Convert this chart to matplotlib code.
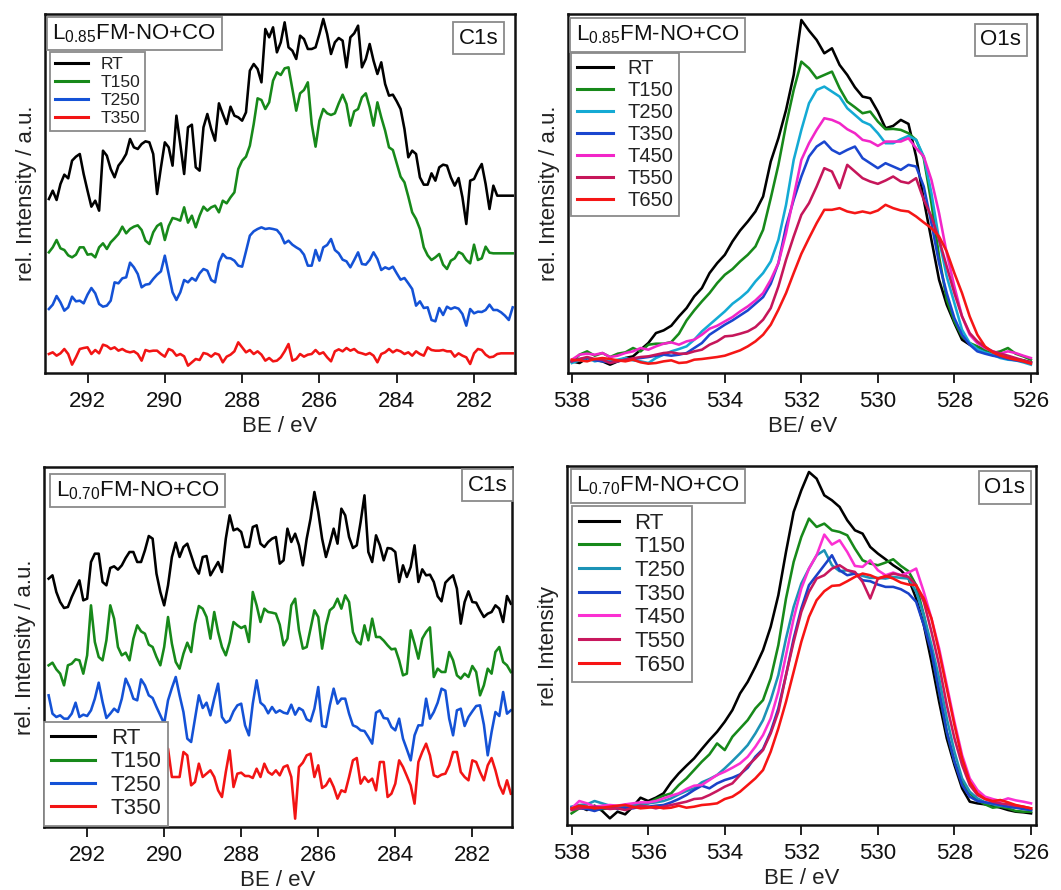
import numpy as np
import matplotlib
matplotlib.use("Agg")
import matplotlib.pyplot as plt

plt.rcParams['font.family'] = ['Liberation Sans', 'DejaVu Sans']
plt.rcParams['mathtext.fontset'] = 'custom'
plt.rcParams['mathtext.rm'] = 'Liberation Sans'

# ---------------------------------------------------------------- energy grids (eV)
c1s_be = np.linspace(293.0, 281.0, 121)
o1s_be = np.linspace(538.0, 526.0, 61)

labels_c1s = ['RT', 'T150', 'T250', 'T350']
labels_o1s = ['RT', 'T150', 'T250', 'T350', 'T450', 'T550', 'T650']

# ---------------------------------------------------------------- L0.85 C1s (a.u.)
c1s_085_rt = [545, 570, 542, 590, 618, 607, 660, 672, 680, 620, 570, 522, 540, 510, 690, 675, 635, 610, 645, 660,
              680, 725, 700, 695, 710, 718, 715, 680, 560, 640, 715, 700, 645, 795, 710, 620, 760, 768, 640, 630,
              760, 800, 755, 720, 832, 800, 770, 822, 795, 790, 780, 805, 930, 950, 935, 895, 1055, 1030, 1060, 985,
              1015, 1075, 1000, 990, 965, 1035, 1025, 995, 995, 1000, 1040, 1085, 1040, 980, 1015, 1028, 1020, 940, 1030, 1042,
              1065, 940, 965, 1010, 960, 920, 955, 890, 855, 858, 838, 815, 755, 670, 690, 680, 610, 588, 588, 622,
              600, 640, 648, 645, 610, 585, 608, 550, 470, 600, 605, 630, 650, 590, 515, 585, 555, 555, 555, 555, 555]
c1s_085_t150 = [385, 400, 422, 397, 392, 376, 370, 378, 400, 400, 378, 380, 370, 400, 412, 395, 415, 427, 440, 462,
                442, 455, 462, 466, 452, 420, 410, 445, 464, 472, 422, 464, 488, 485, 480, 520, 474, 495, 460, 495,
                522, 510, 520, 525, 505, 540, 532, 550, 565, 635, 660, 672, 705, 770, 847, 842, 815, 835, 900, 925,
                917, 937, 940, 875, 810, 862, 872, 895, 770, 702, 780, 815, 802, 797, 802, 832, 858, 830, 765, 808,
                815, 850, 862, 820, 765, 835, 790, 750, 700, 692, 652, 612, 595, 552, 505, 485, 455, 400, 376, 362,
                370, 380, 348, 335, 360, 367, 386, 380, 362, 352, 408, 362, 367, 402, 384, 382, 382, 382, 382, 382, 382]
c1s_085_t250 = [215, 228, 254, 235, 210, 220, 252, 238, 240, 232, 258, 278, 262, 230, 222, 225, 240, 295, 292, 307,
                310, 354, 340, 320, 280, 288, 290, 305, 318, 328, 375, 320, 265, 242, 265, 302, 295, 308, 300, 322,
                335, 330, 302, 295, 355, 380, 368, 367, 360, 345, 342, 388, 435, 448, 455, 460, 455, 457, 455, 452,
                438, 412, 420, 408, 400, 393, 378, 345, 345, 392, 360, 400, 407, 425, 392, 382, 363, 358, 340, 362,
                385, 350, 348, 362, 385, 365, 332, 340, 335, 342, 322, 303, 308, 292, 275, 225, 238, 218, 220, 182,
                178, 218, 197, 222, 215, 220, 216, 200, 165, 215, 202, 207, 206, 212, 228, 212, 212, 205, 195, 182, 220]
c1s_085_t350 = [80, 85, 75, 82, 95, 80, 48, 70, 95, 98, 100, 80, 92, 82, 108, 104, 95, 100, 90, 95,
                88, 85, 88, 80, 60, 92, 88, 90, 90, 80, 72, 95, 90, 75, 80, 73, 45, 55, 65, 62,
                83, 80, 72, 82, 78, 55, 72, 78, 88, 115, 100, 85, 92, 80, 88, 78, 60, 68, 58, 60,
                70, 88, 110, 60, 65, 80, 72, 78, 80, 92, 80, 85, 70, 58, 88, 94, 88, 98, 90, 95,
                85, 82, 78, 83, 75, 55, 80, 85, 95, 85, 92, 88, 80, 85, 75, 88, 80, 75, 100, 92,
                90, 90, 92, 88, 88, 72, 82, 75, 70, 50, 82, 95, 92, 78, 70, 72, 80, 82, 82, 82, 82]

# ---------------------------------------------------------------- L0.70 C1s (a.u.)
c1s_070_rt = [760, 770, 720, 690, 672, 675, 705, 730, 755, 695, 700, 810, 835, 835, 750, 740, 792, 797, 787, 800,
              822, 840, 840, 810, 810, 845, 888, 880, 775, 720, 680, 740, 825, 868, 825, 855, 865, 830, 795, 775,
              825, 828, 770, 790, 810, 780, 880, 950, 905, 910, 900, 855, 855, 915, 920, 865, 855, 870, 880, 885,
              805, 815, 910, 870, 895, 860, 800, 880, 940, 1020, 960, 880, 825, 865, 910, 865, 970, 950, 885, 852,
              860, 930, 1010, 840, 810, 890, 860, 815, 852, 850, 840, 750, 800, 765, 795, 860, 750, 788, 770, 772,
              750, 707, 692, 748, 760, 770, 730, 625, 690, 722, 690, 688, 665, 645, 655, 660, 680, 670, 630, 708, 685]
c1s_070_t150 = [500, 508, 488, 475, 440, 500, 505, 518, 515, 475, 530, 680, 570, 525, 515, 575, 680, 640, 555, 530,
                538, 515, 580, 620, 602, 595, 562, 555, 525, 500, 555, 645, 565, 510, 490, 535, 568, 540, 625, 678,
                670, 645, 580, 660, 600, 555, 530, 570, 630, 620, 612, 618, 570, 720, 680, 630, 670, 660, 658, 655,
                622, 560, 580, 680, 700, 605, 550, 555, 610, 665, 645, 550, 620, 665, 675, 700, 670, 710, 690, 600,
                572, 563, 620, 575, 640, 585, 585, 574, 560, 548, 550, 515, 470, 475, 605, 565, 520, 580, 600, 614,
                465, 490, 480, 480, 540, 515, 470, 460, 475, 465, 498, 480, 410, 440, 490, 475, 540, 555, 510, 500, 480]
c1s_070_t250 = [410, 355, 345, 350, 340, 340, 355, 388, 345, 352, 348, 365, 400, 448, 390, 342, 355, 370, 360, 400,
                460, 435, 400, 395, 458, 440, 410, 402, 375, 350, 325, 395, 432, 465, 410, 360, 280, 270, 340, 410,
                372, 388, 350, 400, 445, 345, 328, 335, 362, 380, 385, 320, 290, 385, 455, 388, 378, 356, 375, 358,
                365, 358, 355, 382, 352, 372, 365, 338, 332, 370, 435, 318, 315, 380, 430, 385, 400, 400, 355, 320,
                315, 305, 303, 285, 265, 358, 365, 342, 340, 315, 305, 340, 280, 248, 215, 290, 320, 320, 400, 340,
                360, 388, 430, 424, 340, 290, 365, 370, 318, 345, 362, 378, 380, 322, 230, 300, 360, 348, 420, 355, 365]
# T350 record starts at 290.3 eV
c1s_070_t350 = [140, 100, 125, 220, 250, 165, 165, 165, 240, 230, 140, 150, 205,
                165, 175, 185, 165, 125, 105, 180, 245, 135, 175, 178, 168, 168, 162, 190, 165, 205, 180, 172, 185,
                170, 195, 200, 165, 40, 195, 208, 230, 235, 165, 200, 132, 140, 160, 135, 100, 125, 120, 165, 215,
                222, 145, 165, 150, 160, 125, 210, 210, 105, 115, 145, 215, 195, 168, 140, 85, 210, 240, 265, 230,
                170, 165, 172, 175, 200, 240, 240, 180, 165, 155, 215, 210, 180, 155, 200, 222, 185, 140, 115, 155, 115]

# ---------------------------------------------------------------- L0.85 O1s (a.u.)
o1s_085_rt = [57, 52, 67, 62, 57, 47, 57, 67, 72, 92, 112, 142, 150, 164, 192, 217, 252, 277, 322, 352,
              377, 417, 450, 477, 507, 552, 657, 727, 812, 917, 1082, 1050, 1022, 982, 997, 947, 917, 880, 852, 847,
              807, 757, 764, 782, 770, 672, 542, 422, 302, 227, 172, 122, 107, 97, 87, 77, 72, 67, 64, 60, 54]
o1s_085_t150 = [54, 77, 87, 74, 82, 70, 80, 84, 97, 87, 107, 110, 110, 115, 140, 180, 210, 237, 262, 292,
                317, 334, 357, 377, 402, 452, 547, 647, 767, 872, 957, 937, 907, 917, 927, 877, 837, 820, 802, 807,
                777, 754, 755, 752, 742, 722, 667, 532, 372, 242, 177, 132, 112, 102, 92, 82, 87, 97, 80, 72, 62]
o1s_085_t250 = [52, 60, 67, 57, 62, 57, 62, 67, 60, 57, 52, 67, 77, 87, 94, 102, 122, 147, 167, 187,
                207, 230, 247, 267, 297, 322, 357, 422, 527, 662, 752, 832, 872, 882, 867, 852, 817, 797, 777, 767,
                742, 712, 712, 724, 734, 722, 672, 562, 422, 312, 232, 152, 112, 94, 84, 77, 67, 62, 60, 54, 47]
o1s_085_t350 = [57, 64, 67, 60, 57, 54, 57, 62, 64, 67, 70, 74, 77, 74, 77, 82, 97, 112, 137, 152,
                167, 180, 195, 210, 230, 250, 290, 352, 462, 542, 612, 672, 702, 717, 692, 680, 692, 702, 667, 652,
                637, 652, 642, 632, 647, 642, 582, 472, 352, 262, 187, 137, 107, 87, 80, 74, 70, 64, 60, 57, 52]
o1s_085_t450 = [62, 77, 80, 77, 82, 70, 74, 82, 87, 97, 92, 102, 110, 114, 107, 117, 122, 137, 155, 164,
                177, 190, 207, 222, 240, 262, 302, 352, 442, 552, 662, 712, 752, 787, 782, 772, 754, 742, 722, 717,
                704, 717, 717, 717, 727, 697, 672, 602, 502, 382, 282, 192, 137, 112, 97, 87, 80, 87, 82, 74, 67]
o1s_085_t550 = [57, 64, 70, 64, 62, 52, 57, 62, 66, 70, 72, 77, 82, 84, 80, 80, 87, 92, 107, 117,
                132, 134, 140, 147, 160, 182, 217, 282, 362, 432, 497, 532, 582, 637, 627, 577, 647, 627, 607, 597,
                590, 600, 612, 597, 592, 607, 542, 492, 422, 342, 262, 192, 142, 117, 100, 87, 80, 74, 67, 60, 54]
o1s_085_t650 = [62, 60, 57, 64, 67, 64, 60, 57, 62, 54, 50, 52, 57, 60, 52, 54, 62, 64, 67, 70,
                74, 82, 90, 102, 117, 137, 167, 212, 262, 322, 380, 427, 472, 512, 512, 517, 507, 502, 507, 502,
                510, 527, 517, 510, 507, 492, 474, 457, 432, 387, 322, 262, 192, 137, 102, 84, 74, 67, 62, 57, 50]

# ---------------------------------------------------------------- L0.70 O1s (a.u.)
o1s_070_rt = [72, 77, 67, 80, 64, 42, 62, 54, 77, 104, 94, 104, 117, 150, 177, 200, 222, 250, 277, 302,
              332, 367, 417, 452, 497, 547, 617, 712, 842, 962, 1027, 1082, 1062, 1012, 997, 977, 937, 907, 897, 857,
              837, 820, 802, 787, 762, 702, 622, 512, 392, 282, 202, 132, 92, 87, 84, 80, 74, 67, 62, 60, 57]
o1s_070_t150 = [57, 72, 77, 67, 70, 72, 74, 72, 77, 84, 87, 100, 110, 117, 142, 162, 187, 212, 234, 267,
                247, 287, 312, 337, 372, 397, 462, 562, 702, 812, 887, 942, 917, 927, 907, 902, 892, 852, 817, 807,
                802, 810, 820, 800, 784, 742, 652, 542, 422, 302, 212, 152, 117, 97, 84, 74, 77, 72, 64, 62, 62]
o1s_070_t250 = [77, 82, 84, 94, 87, 80, 77, 80, 82, 84, 87, 90, 94, 102, 114, 124, 132, 150, 160, 172,
                192, 214, 237, 262, 297, 337, 397, 472, 582, 677, 747, 792, 832, 847, 802, 784, 787, 777, 770, 764,
                764, 762, 767, 764, 762, 722, 652, 562, 462, 342, 242, 162, 122, 102, 90, 84, 80, 77, 74, 72, 67]
o1s_070_t350 = [74, 72, 70, 64, 72, 77, 70, 74, 72, 77, 77, 80, 82, 90, 100, 112, 127, 140, 132, 147,
                157, 164, 174, 194, 227, 250, 302, 372, 472, 582, 672, 742, 772, 802, 832, 787, 772, 777, 757, 754,
                744, 737, 737, 730, 717, 692, 622, 542, 422, 302, 212, 142, 107, 94, 90, 87, 82, 77, 74, 70, 67]
o1s_070_t450 = [72, 94, 87, 77, 80, 82, 80, 84, 87, 90, 90, 94, 102, 110, 117, 130, 140, 142, 157, 172,
                182, 194, 207, 227, 257, 292, 342, 422, 532, 642, 732, 792, 832, 894, 864, 877, 842, 800, 797, 817,
                787, 772, 780, 772, 780, 792, 722, 642, 552, 442, 332, 232, 162, 127, 107, 100, 94, 102, 96, 92, 87]
o1s_070_t550 = [67, 72, 74, 77, 74, 70, 72, 67, 74, 80, 77, 72, 77, 82, 87, 92, 100, 102, 112, 124,
                137, 147, 172, 200, 222, 247, 297, 362, 472, 572, 662, 722, 762, 772, 792, 802, 787, 782, 752, 702,
                762, 767, 777, 772, 767, 742, 692, 602, 502, 382, 282, 202, 142, 112, 100, 92, 87, 84, 80, 77, 72]
o1s_070_t650 = [72, 80, 77, 72, 74, 77, 80, 82, 77, 72, 74, 77, 72, 74, 80, 74, 77, 82, 84, 87,
                100, 107, 122, 142, 162, 187, 242, 312, 392, 482, 572, 647, 697, 724, 740, 742, 754, 767, 777, 772,
                762, 770, 762, 750, 744, 742, 702, 642, 542, 432, 322, 222, 152, 117, 100, 94, 97, 90, 82, 77, 72]

# ---------------------------------------------------------------- colours
col_c1s = ['#000000', '#17891a', '#1452d6', '#f21414']
col_o1s_085 = ['#000000', '#17891a', '#14aad4', '#1a46cf', '#f226c8', '#c6165a', '#f51616']
col_o1s_070 = ['#000000', '#17891a', '#1c93b6', '#1a42c8', '#fb30d2', '#c8185e', '#f71414']

# ---------------------------------------------------------------- figure
W, H = 1061, 890
fig = plt.figure(figsize=(W / 100, H / 100), dpi=100)


def px_axes(x0, y0, x1, y1):
    return fig.add_axes([x0 / W, 1 - y1 / H, (x1 - x0) / W, (y1 - y0) / H])


ax_tl = px_axes(45, 14, 515, 373)
ax_tr = px_axes(568, 14, 1037, 373)
ax_bl = px_axes(44, 467, 512, 827)
ax_br = px_axes(567, 466, 1036, 825)

LW = 1.85


def style(ax, xlim, ylim, ticks, xlabel, ylabel):
    ax.set_xlim(*xlim)
    ax.set_ylim(*ylim)
    ax.set_xticks(ticks)
    ax.set_yticks([])
    ax.tick_params(axis='x', direction='out', length=7, width=1.3, labelsize=16, pad=6, colors='#111111')
    for sp in ax.spines.values():
        sp.set_linewidth(1.8)
        sp.set_color('#111111')
    ax.set_xlabel(xlabel, fontsize=16, labelpad=3, color='#222222')
    ax.set_ylabel(ylabel, fontsize=16, labelpad=6, color='#222222')


def tag(ax, x, y, text, size):
    ax.text(x, y, text, transform=ax.transAxes, ha='center', va='center', fontsize=size, color='#111111',
            bbox=dict(boxstyle='square,pad=0.25', fc='white', ec='#8a8a8a', lw=1.3), zorder=6)


def legend(ax, size, anchor, loc, hl, spacing):
    leg = ax.legend(loc=loc, bbox_to_anchor=anchor, fontsize=size, frameon=True, fancybox=False,
                    edgecolor='#8a8a8a', framealpha=1, handlelength=hl, handletextpad=0.7,
                    labelspacing=spacing, borderpad=0.3, borderaxespad=0)
    leg.get_frame().set_linewidth(1.3)
    for t in leg.get_texts():
        t.set_color('#222222')
    for ln in leg.get_lines():
        ln.set_linewidth(2.2)
    return leg


# --- top left: L0.85 C1s
for y, c, lab in zip([c1s_085_rt, c1s_085_t150, c1s_085_t250, c1s_085_t350], col_c1s, labels_c1s):
    ax_tl.plot(c1s_be, y, color=c, lw=LW, label=lab)
style(ax_tl, (293.1, 280.94), (23, 1100), [292, 290, 288, 286, 284, 282], 'BE / eV', 'rel. Intensity / a.u.')
tag(ax_tl, 0.19, 0.946, r'L$_{\mathregular{0.85}}$FM-NO+CO', 16)
tag(ax_tl, 0.923, 0.932, 'C1s', 16)
legend(ax_tl, 12.5, (0.011, 0.894), 'upper left', 1.9, 0.16)

# --- top right: L0.85 O1s
for y, c, lab in zip([o1s_085_rt, o1s_085_t150, o1s_085_t250, o1s_085_t350,
                      o1s_085_t450, o1s_085_t550, o1s_085_t650], col_o1s_085, labels_o1s):
    ax_tr.plot(o1s_be, y, color=c, lw=LW, label=lab)
style(ax_tr, (538.1, 525.84), (22, 1100), [538, 536, 534, 532, 530, 528, 526], 'BE/ eV', 'rel. Intensity / a.u.')
tag(ax_tr, 0.191, 0.942, r'L$_{\mathregular{0.85}}$FM-NO+CO', 16)
tag(ax_tr, 0.923, 0.928, 'O1s', 16)
legend(ax_tr, 14.5, (0.006, 0.891), 'upper left', 1.8, 0.15)

# --- bottom left: L0.70 C1s
for y, c, lab, be in zip([c1s_070_rt, c1s_070_t150, c1s_070_t250, c1s_070_t350], col_c1s, labels_c1s,
                         [c1s_be, c1s_be, c1s_be, c1s_be[27:]]):
    ax_bl.plot(be, y, color=c, lw=LW, label=lab)
style(ax_bl, (293.12, 280.97), (15, 1095), [292, 290, 288, 286, 284, 282], 'BE / eV', 'rel. Intensity / a.u.')
tag(ax_bl, 0.2, 0.935, r'L$_{\mathregular{0.70}}$FM-NO+CO', 16)
tag(ax_bl, 0.948, 0.95, 'C1s', 16)
legend(ax_bl, 16, (0.0, 0.004), 'lower left', 2.0, 0.1)

# --- bottom right: L0.70 O1s
for y, c, lab in zip([o1s_070_rt, o1s_070_t150, o1s_070_t250, o1s_070_t350,
                      o1s_070_t450, o1s_070_t550, o1s_070_t650], col_o1s_070, labels_o1s):
    ax_br.plot(o1s_be, y, color=c, lw=LW, label=lab)
style(ax_br, (538.12, 525.87), (22, 1100), [538, 536, 534, 532, 530, 528, 526], 'BE / eV', 'rel. Intensity')
tag(ax_br, 0.194, 0.944, r'L$_{\mathregular{0.70}}$FM-NO+CO', 16)
tag(ax_br, 0.933, 0.94, 'O1s', 16)
legend(ax_br, 16, (0.011, 0.889), 'upper left', 1.8, 0.12)

fig.savefig('out.png', dpi=100)
